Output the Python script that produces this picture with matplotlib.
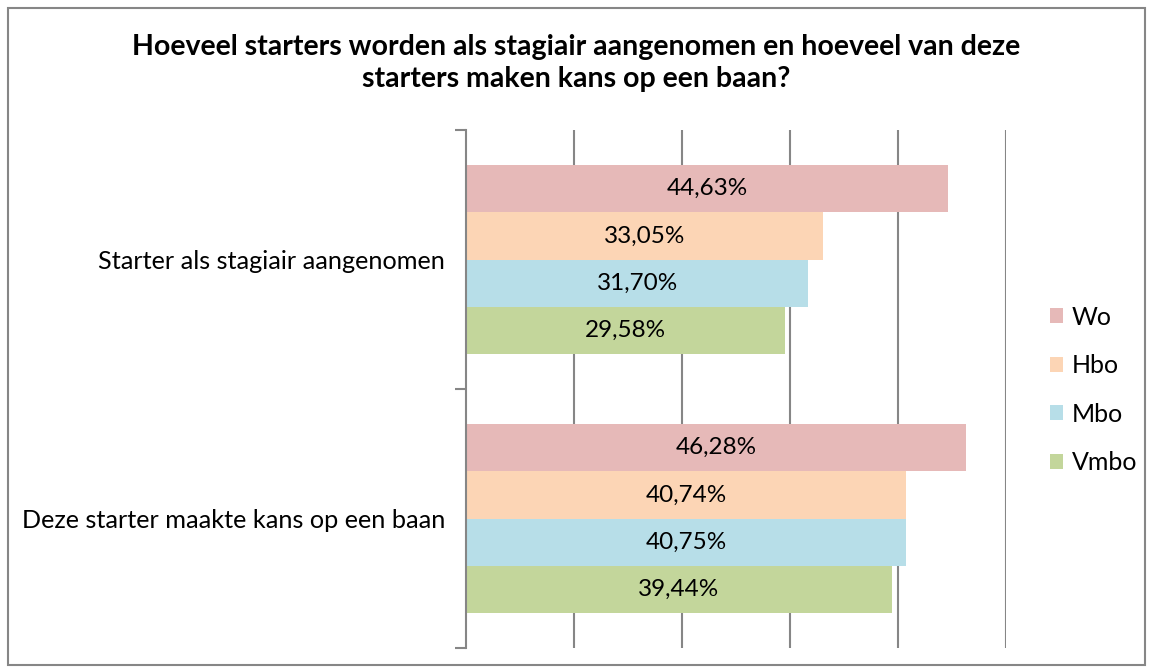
import matplotlib.pyplot as plt
import numpy as np
from matplotlib.patches import Rectangle

plt.rcParams['font.family'] = ['Lato', 'DejaVu Sans']

# data
categories = ["Starter als stagiair aangenomen", "Deze starter maakte kans op een baan"]
series = ["Wo", "Hbo", "Mbo", "Vmbo"]
wo = [44.63, 46.28]
hbo = [33.05, 40.74]
mbo = [31.70, 40.75]
vmbo = [29.58, 39.44]
colors = ["#E6B9B8", "#FCD5B5", "#B7DEE8", "#C3D69B"]
title = "Hoeveel starters worden als stagiair aangenomen en hoeveel van deze\nstarters maken kans op een baan?"

fig = plt.figure(figsize=(11.53, 6.72), dpi=100)
W, H = 1153, 672
# outer frame
fig.patches.append(Rectangle((8 / W, 7 / H), 1137 / W, 657 / H, transform=fig.transFigure,
                             fill=False, edgecolor="#868686", linewidth=1.5))

ax = fig.add_axes([466 / W, (H - 648) / H, (1006 - 466) / W, (648 - 130) / H])

values = [wo, hbo, mbo, vmbo]
bar_h = 0.182
y_cat = np.arange(len(categories))
for i, (vals, c) in enumerate(zip(values, colors)):
    y = y_cat + (i - 1.5) * bar_h
    bars = ax.barh(y, vals, height=bar_h, color=c, label=series[i], zorder=2)
    for b, v in zip(bars, vals):
        ax.text(v / 2, b.get_y() + b.get_height() / 2, f"{v:.2f}%".replace(".", ","),
                ha="center", va="center", fontsize=17.5, zorder=3)

ax.set_xlim(0, 50)
ax.set_ylim(1.5, -0.5)
ax.set_xticks([10, 20, 30, 40, 50])
ax.xaxis.grid(True, color="#868686", linewidth=1.5, zorder=0)
ax.tick_params(axis="x", length=0, labelbottom=False)
ax.set_yticks([-0.5, 0.5, 1.5])
ax.set_yticklabels([])
ax.set_yticks(y_cat, minor=True)
ax.set_yticklabels(categories, minor=True, fontsize=18.2)
ax.tick_params(axis="y", which="major", length=8, color="#868686", width=1.5)
ax.tick_params(axis="y", which="minor", length=0, pad=15)
for s in ["top", "right", "bottom"]:
    ax.spines[s].set_visible(False)
ax.spines["left"].set_color("#868686")
ax.spines["left"].set_linewidth(1.5)

fig.text(576 / W, 1 - 63 / H, title, ha="center", va="center", fontsize=20.5,
         fontweight="bold", linespacing=1.3)

leg = fig.legend(loc="center left", bbox_to_anchor=(1027 / W, 1 - 390 / H), frameon=False,
                 fontsize=18, handlelength=0.55, handleheight=0.55, labelspacing=1.02,
                 handletextpad=0.35)

fig.savefig("out.png", dpi=100)
